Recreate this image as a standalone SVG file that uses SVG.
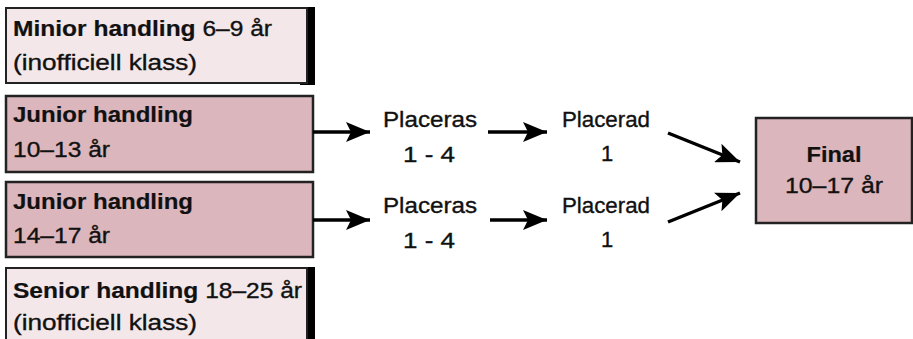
<svg xmlns="http://www.w3.org/2000/svg" width="913" height="339" viewBox="0 0 913 339">
<style>
text{font-family:"Liberation Sans",Arial,sans-serif;font-size:22px;fill:#111;stroke:#111;stroke-width:0.35}
.b{font-weight:bold;stroke-width:0.2}
.light{fill:#f3e7e9;stroke:#222;stroke-width:2}
.dark{fill:#dbb6bc;stroke:#222;stroke-width:2.5}
.c{text-anchor:middle}
.conn line{stroke:#000;stroke-width:3.5;fill:none}
</style>
<defs>
<marker id="arr" viewBox="0 0 24 20" refX="24" refY="10" markerWidth="24" markerHeight="20" orient="auto" markerUnits="userSpaceOnUse">
<path d="M0,0 L24,10 L0,20 L5,10 Z" fill="#000"/>
</marker>
</defs>
<g id="minior">
<rect x="300" y="7" width="15" height="78" fill="#000"/>
<rect class="light" x="6" y="8" width="301" height="75"/>
<text x="13" y="36" textLength="259" lengthAdjust="spacingAndGlyphs"><tspan class="b">Minior handling</tspan> 6–9 år</text>
<text x="13" y="70" textLength="184" lengthAdjust="spacingAndGlyphs">(inofficiell klass)</text>
</g>
<g id="junior1">
<rect class="dark" x="6" y="96" width="307" height="76"/>
<text class="b" x="13" y="122" textLength="180" lengthAdjust="spacingAndGlyphs">Junior handling</text>
<text x="13" y="157" textLength="97" lengthAdjust="spacingAndGlyphs">10–13 år</text>
</g>
<g id="junior2">
<rect class="dark" x="6" y="182" width="307" height="75"/>
<text class="b" x="13" y="209" textLength="180" lengthAdjust="spacingAndGlyphs">Junior handling</text>
<text x="13" y="243" textLength="97" lengthAdjust="spacingAndGlyphs">14–17 år</text>
</g>
<g id="senior">
<rect x="300" y="267" width="15" height="80" fill="#000"/>
<rect class="light" x="6" y="268" width="301" height="80"/>
<text x="13" y="298" textLength="289" lengthAdjust="spacingAndGlyphs"><tspan class="b">Senior handling</tspan> 18–25 år</text>
<text x="13" y="330" textLength="184" lengthAdjust="spacingAndGlyphs">(inofficiell klass)</text>
</g>
<g id="placeras1">
<text class="c" x="430" y="127" textLength="94" lengthAdjust="spacingAndGlyphs">Placeras</text>
<text class="c" x="429" y="162" textLength="52" lengthAdjust="spacingAndGlyphs">1 - 4</text>
</g>
<g id="placeras2">
<text class="c" x="430" y="213" textLength="94" lengthAdjust="spacingAndGlyphs">Placeras</text>
<text class="c" x="429" y="248" textLength="52" lengthAdjust="spacingAndGlyphs">1 - 4</text>
</g>
<g id="placerad1">
<text class="c" x="606" y="127" textLength="88" lengthAdjust="spacingAndGlyphs">Placerad</text>
<text class="c" x="607" y="161">1</text>
</g>
<g id="placerad2">
<text class="c" x="606" y="213" textLength="88" lengthAdjust="spacingAndGlyphs">Placerad</text>
<text class="c" x="607" y="247">1</text>
</g>
<g id="final">
<rect class="dark" x="756" y="118" width="156" height="105"/>
<text class="c b" x="834" y="162" textLength="55" lengthAdjust="spacingAndGlyphs">Final</text>
<text class="c" x="834" y="193" textLength="98" lengthAdjust="spacingAndGlyphs">10–17 år</text>
</g>
<g id="connectors" class="conn">
<line x1="313" y1="132" x2="370" y2="132" marker-end="url(#arr)"/>
<line x1="313" y1="220" x2="370" y2="220" marker-end="url(#arr)"/>
<line x1="488" y1="132" x2="547" y2="132" marker-end="url(#arr)"/>
<line x1="490" y1="220" x2="547" y2="220" marker-end="url(#arr)"/>
<line x1="668" y1="133" x2="740" y2="162" marker-end="url(#arr)"/>
<line x1="668" y1="222" x2="740" y2="193" marker-end="url(#arr)"/>
</g>
</svg>
